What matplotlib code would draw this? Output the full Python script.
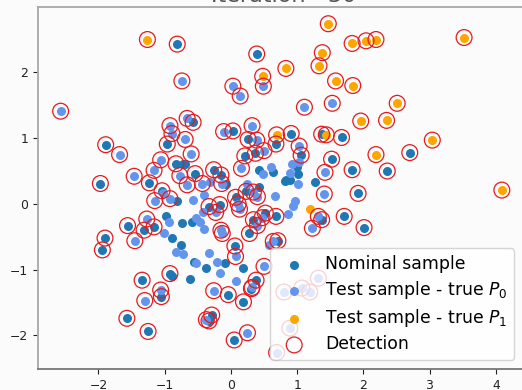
import numpy as np
import matplotlib
matplotlib.use('Agg')
import matplotlib.pyplot as plt

# nominal sample (x, y, detected)
nom_x = [-0.81, 0.39, -0.57, -0.96, -1.89, 0.03, 0.26, 0.37, 0.21, 0.68, 0.91, 1.06, 1.37, 1.67, 1.52,
         1.83, 2.36, 2.70, 1.92, 1.71, 2.01, -1.97, -1.23, -1.04, -0.81, -0.83, -0.69, -0.54, -0.26, -0.15,
         -0.08, -0.17, -0.33, 0.07, 0.23, 0.43, 0.42, 0.63, 0.82, 0.89, 1.00, 1.02, 1.27, 0.68, 0.52,
         0.34, 0.28, 0.71, 0.06, 0.19, 0.38, 0.31, 0.19, -0.04, 0.05, -0.29, -0.33, -1.25, -1.57, -1.05,
         -1.34, -0.92, -0.89, -0.61, -0.38, -0.09, -0.56, -0.75, -0.89, -0.98, -0.74, -0.58, -1.56, -1.16, -1.31,
         -1.90, -1.94, 1.37, -0.72, 0.83]
nom_y = [2.43, 2.28, 1.24, 0.91, 0.90, 1.11, 0.98, 0.77, 0.73, 0.91, 1.07, 0.74, 1.06, 1.01, 0.68,
         0.52, 0.50, 0.78, 0.16, -0.19, -0.36, 0.31, 0.32, 0.20, 0.04, 0.61, 0.61, 0.46, 0.52, 0.44,
         0.31, -0.01, -0.04, 0.10, 0.19, 0.26, 0.52, 0.48, 0.35, 0.36, 0.56, 0.45, 0.34, -0.19, -0.14,
         -0.24, -0.45, -0.56, -0.64, -0.97, -1.16, -1.29, -1.49, -1.38, -2.07, -1.69, -1.78, -1.94, -1.74, -1.41,
         -1.16, -1.06, -1.09, -1.14, -0.98, -0.90, -0.89, -0.63, -0.52, -0.18, -0.29, -0.28, -0.33, -0.35, -0.40,
         -0.52, -0.70, -0.24, 0.60, 0.36]
nom_det = [1, 1, 1, 1, 1, 1, 1, 1, 1, 1, 1, 1, 1, 1, 1,
           1, 1, 1, 1, 1, 1, 1, 1, 1, 0, 1, 0, 1, 1, 1,
           0, 1, 1, 1, 1, 0, 0, 0, 0, 0, 0, 0, 0, 1, 1,
           1, 1, 1, 1, 0, 1, 1, 1, 1, 1, 1, 1, 1, 1, 1,
           1, 1, 0, 0, 0, 0, 0, 0, 0, 0, 0, 0, 1, 1, 1,
           1, 1, 1, 0, 0]

# test sample, true P0
p0_x = [-0.74, 0.03, 0.14, 0.49, -2.57, 1.11, 1.53, -0.66, -0.92, -0.89, -1.68, -0.69, -0.60, -0.11, 0.32,
        0.39, 0.50, 0.16, 1.03, 1.03, 1.42, 1.41, -1.46, -1.06, -1.16, -1.15, -1.02, -0.92, -0.77, -0.66,
        -0.43, -0.31, -0.14, -0.57, -0.40, -0.23, 0.11, 0.13, 0.25, 0.34, 0.40, 0.49, 0.61, 0.66, 0.92,
        0.89, 1.02, 0.97, 0.94, 0.86, 0.47, 0.40, 0.64, 0.57, 0.50, 0.07, 0.08, 0.32, -0.26, 0.25,
        -0.37, -1.30, -1.06, -0.21, -0.17, -0.33, -0.52, -0.83, -0.72, -1.01, -0.94, -0.53, -0.46, -0.40, -0.42,
        -0.15, -0.13, -1.27, -1.45, 1.32, 1.19, 1.07, 0.80, 0.89, 0.69, 1.23, 1.32]
p0_y = [1.87, 1.79, 1.64, 1.79, 1.41, 1.47, 1.53, 1.30, 1.19, 1.07, 0.75, 0.98, 0.76, 1.10, 1.19,
        0.97, 0.81, 0.54, 0.88, 0.64, 0.48, 0.15, 0.42, 0.67, 0.51, 0.05, 0.16, 0.08, 0.43, 0.29,
        0.31, 0.34, 0.31, 0.06, 0.14, -0.13, 0.00, -0.08, 0.31, 0.18, 0.11, 0.46, 0.56, 0.12, 0.61,
        0.47, 0.31, 0.04, -0.03, -0.15, -0.21, -0.33, -0.57, -0.63, -0.95, -0.80, -1.17, -1.27, -1.32, -1.96,
        -1.76, -1.47, -1.31, -0.89, -1.05, -0.75, -0.90, -0.73, -0.76, -0.45, -0.27, -0.21, -0.27, -0.38, -0.12,
        -0.40, -0.45, -0.23, -0.56, -1.13, -1.34, -1.28, -1.34, -1.89, -2.26, -0.37, -0.19]
p0_det = [1, 1, 1, 1, 1, 1, 1, 1, 1, 1, 1, 1, 1, 1, 1,
          1, 1, 1, 1, 0, 1, 1, 1, 1, 1, 1, 0, 1, 1, 1,
          1, 0, 1, 0, 0, 1, 1, 1, 0, 1, 1, 0, 0, 0, 0,
          0, 0, 0, 0, 0, 1, 1, 1, 0, 1, 1, 0, 1, 1, 1,
          1, 1, 1, 0, 0, 0, 0, 0, 0, 0, 0, 0, 0, 0, 0,
          1, 1, 1, 1, 1, 1, 1, 1, 1, 1, 1, 1]

# test sample, true P1
p1_x = [-1.26, 1.47, 1.38, 1.33, 1.83, 2.04, 2.19, 3.52, 0.48, 0.83, 1.58, 1.84, 2.51, 1.96, 2.35,
        3.04, 2.19, 4.09, 0.69, 1.44, 1.19]
p1_y = [2.50, 2.74, 2.30, 2.10, 2.44, 2.48, 2.50, 2.53, 1.94, 2.06, 1.87, 1.80, 1.53, 1.26, 1.27,
        0.97, 0.75, 0.21, 1.05, 1.05, -0.08]
p1_det = [1, 1, 1, 1, 1, 1, 1, 1, 1, 1, 1, 1, 1, 1, 1,
          1, 1, 1, 1, 1, 0]

nom_x, nom_y, nom_det = np.array(nom_x), np.array(nom_y), np.array(nom_det, bool)
p0_x, p0_y, p0_det = np.array(p0_x), np.array(p0_y), np.array(p0_det, bool)
p1_x, p1_y, p1_det = np.array(p1_x), np.array(p1_y), np.array(p1_det, bool)

det_x = np.concatenate([nom_x[nom_det], p0_x[p0_det], p1_x[p1_det]])
det_y = np.concatenate([nom_y[nom_det], p0_y[p0_det], p1_y[p1_det]])

bg = '#fbfbfb'
fig = plt.figure(figsize=(5.22, 3.90), dpi=100, facecolor=bg)
ax = fig.add_axes([0.073, 0.054, 0.929, 0.929], facecolor=bg)

ax.scatter(nom_x, nom_y, s=30, color='#1f77b4', label='Nominal sample')
ax.scatter(p0_x, p0_y, s=30, color='#6495ed', label='Test sample - true $P_0$')
ax.scatter(p1_x, p1_y, s=30, color='orange', label='Test sample - true $P_1$')
ax.scatter(det_x, det_y, s=130, facecolors='none', edgecolors='#e8191c', linewidths=0.9, label='Detection')

ax.set_xlim(-2.91, 4.41)
ax.set_ylim(-2.51, 3.0)
ax.set_xticks([-2, -1, 0, 1, 2, 3, 4])
ax.set_yticks([-2, -1, 0, 1, 2])
ax.tick_params(labelsize=8.9, colors='#222222')
for sp in ax.spines.values():
    sp.set_color('#a8a8a8')
    sp.set_linewidth(1.3)
ax.spines['bottom'].set_color('#777777')

# title sits mostly above the picture, only its lower edge shows
fig.text(0.544, 1 - 2.5 / 390, 'Iteration - 30', fontsize=16, ha='center', va='baseline',
         color='#555555')
ax.legend(loc='lower right', fontsize=12.4, labelspacing=0.35,
          facecolor='white', edgecolor='#cccccc')

fig.savefig('out.png', dpi=100, facecolor=bg)
